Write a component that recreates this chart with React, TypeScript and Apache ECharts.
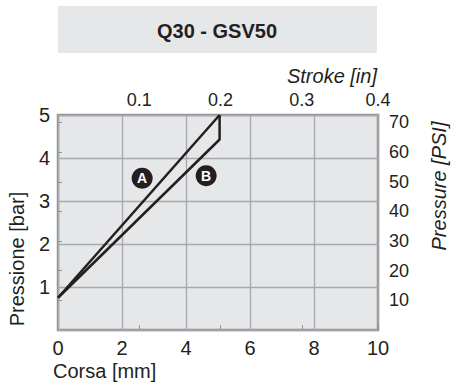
import React, { useEffect, useRef } from "react";
import * as echarts from "echarts";

const TITLE = "Q30 - GSV50";
const STROKE_MM_TICKS = [0, 2, 4, 6, 8, 10];
const PRESSURE_BAR_TICKS = [1, 2, 3, 4, 5];
const STROKE_IN_TICKS = [0.1, 0.2, 0.3, 0.3937];
const PRESSURE_PSI_TICKS = [10, 20, 30, 40, 50, 60, 70];

// curve A (upper) and curve B (lower, closing with the vertical segment)
const curveA: [number, number][] = [
  [0, 0.75],
  [5.05, 5.0],
];
const curveB: [number, number][] = [
  [0, 0.75],
  [5.05, 4.43],
  [5.05, 5.0],
];
const markers = [
  { name: "A", value: [2.63, 3.53] },
  { name: "B", value: [4.63, 3.59] },
];

const FONT = "'Liberation Sans', Arial, Helvetica, sans-serif";
const INK = "#231f20";

export default function App() {
  const ref = useRef<HTMLDivElement>(null);
  useEffect(() => {
    if (!ref.current) return;
    const chart = echarts.init(ref.current, undefined, { renderer: "svg" });
    const option: any = {
      animation: false,
      backgroundColor: "#ffffff",
      textStyle: { fontFamily: FONT },
      grid: {
        left: 58,
        right: 75,
        top: 115,
        bottom: 53,
        show: true,
        backgroundColor: "#e6e7e8",
        borderColor: "#939598",
        borderWidth: 2.5,
        containLabel: false,
      },
      xAxis: [
        {
          type: "value",
          position: "bottom",
          min: 0,
          max: 10,
          interval: 2,
          axisLine: { show: false },
          axisTick: { show: false },
          axisLabel: {
            customValues: STROKE_MM_TICKS,
            fontSize: 20,
            color: INK,
            margin: 8,
            fontFamily: FONT,
          },
          splitLine: { show: true, lineStyle: { color: "#a7a9ac", width: 1.3 } },
        },
        {
          type: "value",
          position: "top",
          min: 0,
          max: 0.3937,
          axisLine: { show: false },
          axisTick: {
            show: true,
            customValues: STROKE_IN_TICKS,
            length: 5,
            lineStyle: { color: "#939598", width: 1 },
          },
          axisLabel: {
            customValues: STROKE_IN_TICKS,
            fontSize: 18,
            color: INK,
            margin: 6,
            fontFamily: FONT,
            formatter: (v: number) => (Math.round(v * 10) / 10).toFixed(1),
          },
          splitLine: { show: false },
        },
      ],
      yAxis: [
        {
          type: "value",
          position: "left",
          min: 0,
          max: 5,
          interval: 1,
          axisLine: { show: false },
          axisTick: { show: false },
          axisLabel: {
            customValues: PRESSURE_BAR_TICKS,
            fontSize: 20,
            color: INK,
            margin: 8,
            fontFamily: FONT,
          },
          splitLine: { show: true, lineStyle: { color: "#a7a9ac", width: 1.3 } },
        },
        {
          type: "value",
          position: "right",
          min: 0,
          max: 72.52,
          axisLine: { show: false },
          axisTick: {
            show: true,
            customValues: PRESSURE_PSI_TICKS,
            length: 4,
            lineStyle: { color: "#939598", width: 1 },
          },
          axisLabel: {
            customValues: PRESSURE_PSI_TICKS,
            fontSize: 18,
            color: INK,
            margin: 11,
            fontFamily: FONT,
          },
          splitLine: { show: false },
        },
      ],
      series: [
        {
          type: "line",
          name: "A",
          data: curveA,
          xAxisIndex: 0,
          yAxisIndex: 0,
          symbol: "none",
          lineStyle: { color: INK, width: 2.5 },
          clip: false,
        },
        {
          type: "line",
          name: "B",
          data: curveB,
          xAxisIndex: 0,
          yAxisIndex: 0,
          symbol: "none",
          lineStyle: { color: INK, width: 2.5 },
          clip: false,
        },
        {
          type: "scatter",
          data: markers,
          xAxisIndex: 0,
          yAxisIndex: 0,
          symbolSize: 21,
          itemStyle: { color: INK, opacity: 1 },
          label: {
            show: true,
            position: "inside",
            formatter: "{b}",
            color: "#ffffff",
            fontWeight: "bold",
            fontSize: 14,
            fontFamily: FONT,
          },
        },
      ],
      graphic: [
        {
          type: "rect",
          shape: { x: 58, y: 6, width: 319, height: 47 },
          style: { fill: "#e6e7e8" },
          silent: true,
        },
        {
          type: "text",
          x: 217,
          y: 31,
          style: {
            text: TITLE,
            fill: INK,
            font: `bold 20px ${FONT}`,
            textAlign: "center",
            textVerticalAlign: "middle",
          },
        },
        {
          type: "text",
          x: 377,
          y: 76,
          style: {
            text: "Stroke [in]",
            fill: INK,
            font: `italic 20px ${FONT}`,
            textAlign: "right",
            textVerticalAlign: "middle",
          },
        },
        {
          type: "text",
          x: 17,
          y: 259,
          rotation: Math.PI / 2,
          style: {
            text: "Pressione [bar]",
            fill: INK,
            font: `20px ${FONT}`,
            textAlign: "center",
            textVerticalAlign: "middle",
          },
        },
        {
          type: "text",
          x: 439,
          y: 186,
          rotation: Math.PI / 2,
          style: {
            text: "Pressure [PSI]",
            fill: INK,
            font: `italic 20px ${FONT}`,
            textAlign: "center",
            textVerticalAlign: "middle",
          },
        },
        {
          type: "text",
          x: 53,
          y: 371,
          style: {
            text: "Corsa [mm]",
            fill: INK,
            font: `20px ${FONT}`,
            textAlign: "left",
            textVerticalAlign: "middle",
          },
        },
      ],
    };
    chart.setOption(option);
    return () => chart.dispose();
  }, []);
  return (
    <div
      ref={ref}
      style={{ position: "absolute", left: 0, top: 0, width: 453, height: 383 }}
    />
  );
}
